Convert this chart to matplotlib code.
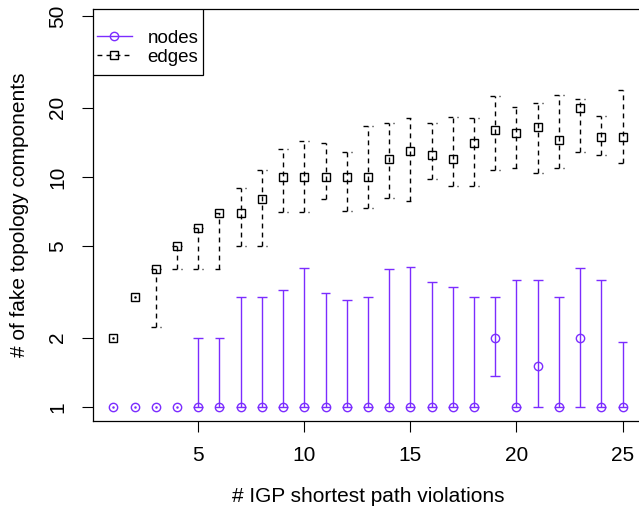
import matplotlib
matplotlib.use('Agg')
import matplotlib.pyplot as plt
from matplotlib.lines import Line2D
from matplotlib.patches import Rectangle

plt.rcParams['font.family'] = ['Liberation Sans', 'DejaVu Sans']

violations = list(range(1, 26))

# nodes: mean, lower and upper end of the bar
nodes_mean = [1] * 18 + [2, 1, 1.5, 1, 2, 1, 1]
nodes_low = [1] * 18 + [1.36, 1, 1, 1, 1, 1, 1]
nodes_high = [1, 1, 1, 1, 2, 2, 3, 3, 3.22, 4.02, 3.12, 2.91, 3, 3.97, 4.07,
              3.51, 3.31, 3, 3, 3.57, 3.57, 3, 4.02, 3.57, 1.91]

# edges
edges_mean = [2, 3, 4, 5, 6, 7, 7, 8, 10, 10, 10, 10, 10, 12, 13, 12.5, 12, 14,
              16, 15.6, 16.5, 14.5, 20, 15, 15]
edges_low = [2, 3, 2.22, 4, 4, 4, 5, 5, 7.07, 7.07, 8, 7.14, 7.3, 8.1, 7.9, 9.8,
             9.1, 9.1, 10.7, 11, 10.4, 11, 12.8, 12.5, 11.5]
edges_high = [2, 3, 4, 5, 6, 7, 9, 10.7, 13.2, 14.4, 14.1, 12.9, 16.7, 17.1, 18.1,
              17.2, 18.3, 18, 22.6, 20.2, 21, 22.8, 21.9, 18.5, 23.9]

purple = '#7b2cff'
dash = (0, (3.5, 3))
cap = 0.23

fig = plt.figure(figsize=(6.39, 5.08), dpi=100)
ax = fig.add_axes([0.1455, 0.1713, 0.8607, 0.8110])


def bars(x, mean, low, high, color, ls, marker):
    bx = [xi for xi, l, h in zip(x, low, high) if h > l]
    bl = [l for l, h in zip(low, high) if h > l]
    bh = [h for l, h in zip(low, high) if h > l]
    ax.vlines(bx, bl, bh, colors=color, linestyles=ls, lw=1)
    ax.hlines(bl, [v - cap for v in bx], [v + cap for v in bx], colors=color, linestyles=ls, lw=1)
    ax.hlines(bh, [v - cap for v in bx], [v + cap for v in bx], colors=color, linestyles=ls, lw=1)
    dx = [xi for xi, l, h in zip(x, low, high) if h <= l]
    dy = [m for m, l, h in zip(mean, low, high) if h <= l]
    ax.plot(dx, dy, '.', color=color, ms=1.6, ls='none')
    ax.plot(x, mean, marker, color=color, mfc='none', ms=6, mew=1, ls='none')


bars(violations, edges_mean, edges_low, edges_high, 'black', dash, 's')
bars(violations, nodes_mean, nodes_low, nodes_high, purple, 'solid', 'o')

ax.set_yscale('log')
ax.set_xlim(0.04, 25.96)
ax.set_ylim(0.869, 53.8)
ax.set_xticks([5, 10, 15, 20, 25])
ax.set_yticks([1, 2, 5, 10, 20, 50])
ax.set_yticklabels(['1', '2', '5', '10', '20', '50'], rotation=90, va='center')
ax.minorticks_off()
ax.tick_params(length=7.7, width=0.8, labelsize=15)
ax.tick_params(axis='x', pad=10)
ax.tick_params(axis='y', pad=11)
for s in ax.spines.values():
    s.set_linewidth(0.9)

ax.set_xlabel('# IGP shortest path violations', fontsize=15, labelpad=16)
ax.set_ylabel('# of fake topology components', fontsize=15, labelpad=14)

# legend box like R's topleft legend
ax.add_patch(Rectangle((0, 0.84), 0.1998, 0.16, transform=ax.transAxes,
                       facecolor='white', edgecolor='black', lw=0.9, zorder=4))
handles = [
    Line2D([], [], color=purple, marker='o', mfc='none', ms=6, lw=1),
    Line2D([], [], color='black', marker='s', mfc='none', ms=6, lw=1, ls=dash),
]
leg = ax.legend(handles, ['nodes', 'edges'], loc='upper left', fontsize=13.5,
                bbox_to_anchor=(0.0073, 0.950), frameon=False,
                borderaxespad=0, borderpad=0, handlelength=1.85,
                handletextpad=0.85, labelspacing=0.1)
leg.set_zorder(5)

fig.savefig('out.png', dpi=100)
